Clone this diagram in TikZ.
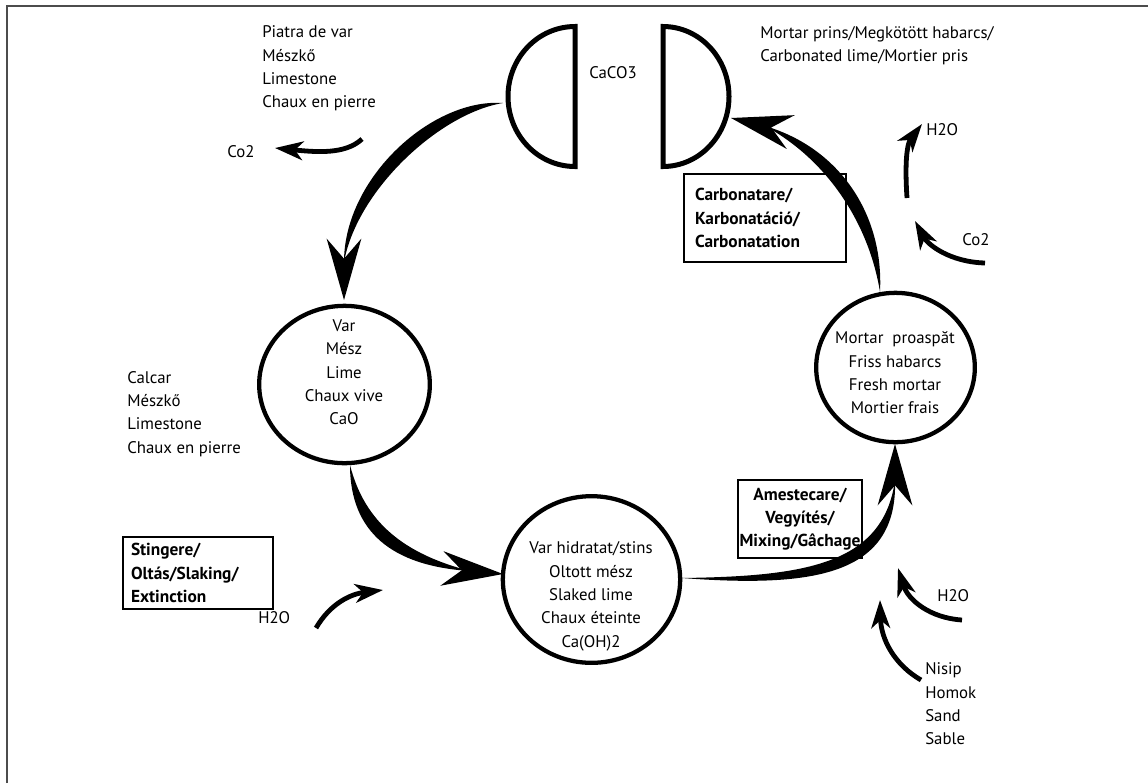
\documentclass[tikz,border=0pt]{standalone}
\usepackage{fontspec}
\setmainfont{PT Sans}
\usetikzlibrary{arrows.meta,shapes.geometric,calc}
\begin{document}
\begin{tikzpicture}[x=0.75pt,y=-0.75pt,
  lbl/.style={font=\fontsize{12.6}{17.5}\selectfont, inner sep=0pt, align=left},
  lblc/.style={lbl, align=center},
  stage/.style={draw, line width=1.5pt, font=\bfseries\fontsize{13}{17.5}\selectfont, inner ysep=0pt},
  oval/.style={ellipse, draw, line width=3.2pt, inner sep=0pt},
  halfcup/.style={line width=3.75pt, line join=miter},
  bighead/.style={-{Stealth[length=46pt,width=26pt,inset=15pt]}, line width=1pt},
  smallarrow/.style={line width=3.6pt, -{Stealth[length=21pt,width=14pt,inset=6pt]}},
  frameline/.style={draw=black!70, line width=1.2pt},
]
\useasboundingbox (0,0) rectangle (1148,783);
\draw[frameline] (7,783) -- (7,6) -- (1148,6);

\coordinate (O) at (590,380);

\draw[halfcup] (575,166.5) -- (575,26.5) arc[start angle=90, end angle=270, x radius=50.25pt, y radius=52.5pt] -- cycle;
\draw[halfcup] (663,166.5) -- (663,26.5) arc[start angle=90, end angle=-90, x radius=49.5pt, y radius=52.5pt] -- cycle;
\node[lbl] (caco3) at (613,73) {CaCO3};

\node[oval, minimum width=128pt, minimum height=118pt] (lime) at (344.5,384.5) {};
\node[lblc] (limeT) at (344,372.5) {Var\\Mész\\Lime\\Chaux vive\\CaO};
\node[oval, minimum width=133pt, minimum height=125pt] (slaked) at (591.5,579.5) {};
\node[lblc] (slakedT) at (591,596.5) {Var hidratat/stins\\Oltott mész\\Slaked lime\\Chaux éteinte\\Ca(OH)2};
\node[oval, minimum width=119pt, minimum height=112pt] (fresh) at (895.5,367.5) {};
\node[lblc] (freshT) at (895,373) {Mortar~ proaspăt\\Friss habarcs\\Fresh mortar\\Mortier frais};

\node[lbl, anchor=west] (stone) at (262,68.5) {Piatra de var\\Mészkő\\Limestone\\Chaux en pierre};
\node[lbl, anchor=west] (co2L) at (227,152) {Co2};
\node[lbl, anchor=west] (calcar) at (127,414) {Calcar\\Mészkő\\Limestone\\Chaux en pierre};
\node[lbl, anchor=west] (h2oL) at (258,618) {H2O};
\node[lbl, anchor=west] (carb) at (760,45.5) {Mortar prins/Megkötött habarcs/\\Carbonated lime/Mortier pris};
\node[lbl, anchor=west] (h2oTR) at (926,130) {H2O};
\node[lbl, anchor=west] (co2R) at (962,240) {Co2};
\node[lbl, anchor=west] (h2oBR) at (937,596) {H2O};
\node[lbl, anchor=west] (sand) at (925,704) {Nisip\\Homok\\Sand\\Sable};

\node[stage, minimum width=121.5pt, minimum height=66pt, inner xsep=8.25pt, text width=105pt, align=left] (carbbox) at (765,218) {Carbonatare/\\Karbonatáció/\\Carbonatation};
\node[stage, minimum width=112.5pt, minimum height=54pt, inner xsep=6pt, text width=100.5pt, align=left] (slakebox) at (198,573) {Stingere/\\Oltás/Slaking/\\Extinction};
\node[stage, minimum width=93pt, minimum height=58pt, inner xsep=0pt, text width=93pt, align=center] (mixbox) at (800,519) {Amestecare/\\Vegyítés/\\Mixing/Gâchage};

% main cycle arcs
\coordinate (S1) at (503,103); \coordinate (P1) at (432,98); \coordinate (Q1) at (344,178);
\coordinate (E1) at (344,262); \coordinate (T1) at (344,300);
\fill (S1) .. controls (P1) and (Q1) .. (E1) .. controls ($(Q1)!13pt!(O)$) and ($(P1)!13pt!(O)$) .. (S1);
\draw[bighead] (E1) -- (T1);

\coordinate (S2) at (350,465); \coordinate (P2) at (350,532); \coordinate (Q2) at (392,566);
\coordinate (E2) at (470,571); \coordinate (T2) at (503,574);
\fill (S2) .. controls (P2) and (Q2) .. (E2) .. controls ($(Q2)!13pt!(O)$) and ($(P2)!13pt!(O)$) .. (S2);
\draw[bighead] (E2) -- (T2);

\coordinate (S3) at (682,578); \coordinate (P3) at (815,588); \coordinate (Q3) at (898,575);
\coordinate (E3) at (895,480); \coordinate (T3) at (895,444);
\fill (S3) .. controls (P3) and (Q3) .. (E3) .. controls ($(Q3)!13pt!(O)$) and ($(P3)!13pt!(O)$) .. (S3);
\draw[bighead] (E3) -- (T3);

\coordinate (S4) at (880,292); \coordinate (P4) at (884,215); \coordinate (Q4) at (840,148);
\coordinate (E4) at (765,126); \coordinate (T4) at (731,118);
\fill (S4) .. controls (P4) and (Q4) .. (E4) .. controls ($(Q4)!13pt!(O)$) and ($(P4)!13pt!(O)$) .. (S4);
\draw[bighead] (E4) -- (T4);

% side arrows
\coordinate (a1) at (362,139); \coordinate (b1) at (275,148);
\draw[smallarrow] (a1) .. controls (345,155) and (315,152) .. (b1);
\coordinate (a2) at (316,628); \coordinate (b2) at (383,590);
\draw[smallarrow] (a2) .. controls (330,604) and (350,594) .. (b2);
\coordinate (a3) at (962,620); \coordinate (b3) at (898,568);
\draw[smallarrow] (a3) .. controls (930,618) and (908,600) .. (b3);
\coordinate (a4) at (921,680); \coordinate (b4) at (880,600);
\draw[smallarrow] (a4) .. controls (895,665) and (881,640) .. (b4);
\coordinate (a5) at (985,263); \coordinate (b5) at (915,221);
\draw[smallarrow] (a5) .. controls (950,262) and (928,245) .. (b5);
\coordinate (a6) at (907,198); \coordinate (b6) at (922,124);
\draw[smallarrow] (a6) .. controls (905,168) and (906,145) .. (b6);
\end{tikzpicture}
\end{document}
